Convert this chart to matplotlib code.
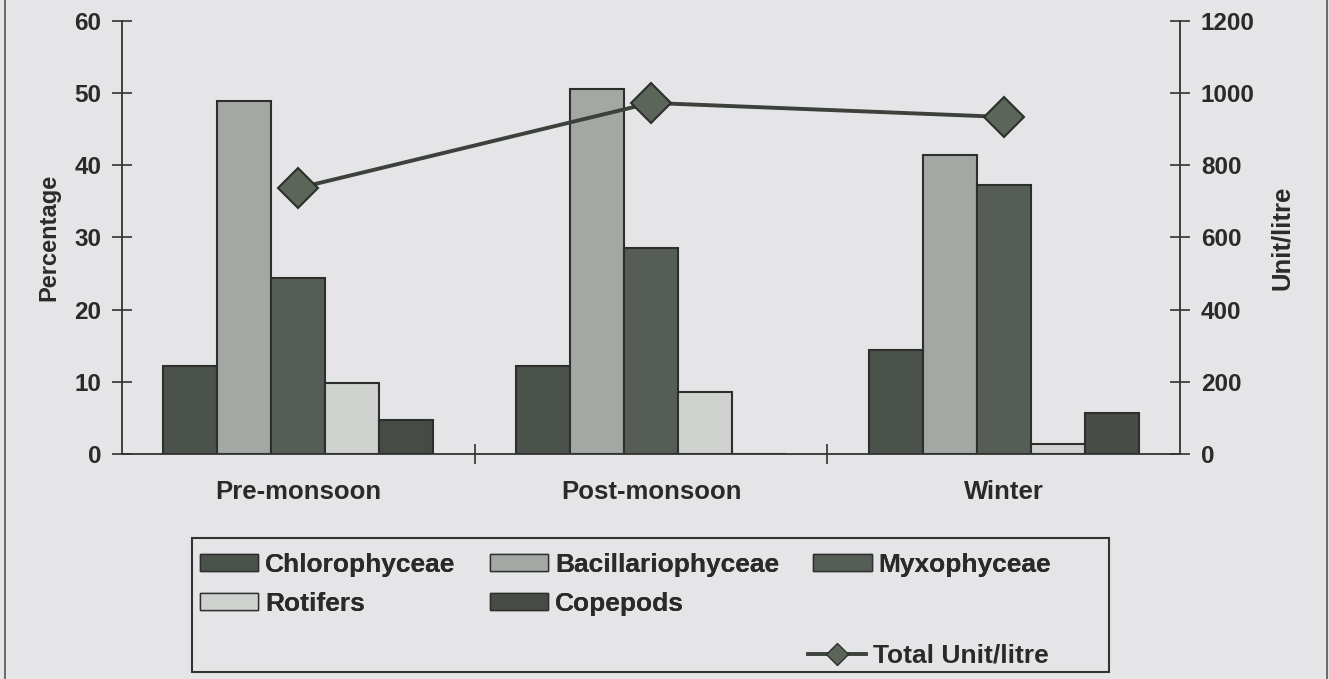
import matplotlib.pyplot as plt
from matplotlib.patches import Patch, Rectangle
from matplotlib.lines import Line2D
import numpy as np

plt.rcParams['font.family'] = ['Liberation Sans', 'DejaVu Sans']
plt.rcParams['font.weight'] = 'bold'

seasons = ["Pre-monsoon", "Post-monsoon", "Winter"]
groups = ["Chlorophyceae", "Bacillariophyceae", "Myxophyceae", "Rotifers", "Copepods"]
chlorophyceae = [12.2, 12.2, 14.4]
bacillariophyceae = [48.9, 50.6, 41.4]
myxophyceae = [24.4, 28.5, 37.3]
rotifers = [9.8, 8.6, 1.4]
copepods = [4.7, 0.0, 5.7]
total_unit = [737, 973, 934]

series = [chlorophyceae, bacillariophyceae, myxophyceae, rotifers, copepods]
colors = ['#4b524b', '#a4a8a4', '#565c56', '#cfd2cf', '#464b46']
bg = '#e5e5e8'
edge = '#2c2f2c'
txt = '#2a2a2a'

fig = plt.figure(figsize=(13.29, 6.79), dpi=100, facecolor=bg)
ax = fig.add_axes([0.0918, 0.3314, 0.7961, 0.6377])
ax.set_facecolor('none')

x = np.arange(len(seasons))
w = 0.153
for i, (vals, name) in enumerate(zip(series, groups)):
    ax.bar(x + (i - 2) * w, vals, width=w, color=colors[i], edgecolor=edge,
           linewidth=1.5, label=name, zorder=2)

ax.set_xlim(-0.5, 2.5)
ax.set_ylim(0, 60)
ax.set_yticks(range(0, 61, 10))
ax.set_xticks(x)
ax.set_xticklabels(seasons, fontsize=18.5, fontweight='bold', color=txt)
ax.set_xticks([0.5, 1.5], minor=True)
ax.tick_params(axis='x', which='major', length=0, pad=19)
ax.tick_params(axis='x', which='minor', direction='inout', length=14, width=1.2, color='#333333')
ax.tick_params(axis='y', direction='inout', length=14, width=1.2, color='#333333',
               labelsize=17.5, pad=8, labelcolor=txt)
for s in ['top', 'right']:
    ax.spines[s].set_visible(False)
for s in ['left', 'bottom']:
    ax.spines[s].set_color('#333333')
    ax.spines[s].set_linewidth(1.3)
ax.set_ylabel("Percentage", fontsize=17, fontweight='bold', color=txt, labelpad=10)

ax2 = ax.twinx()
ax2.set_ylim(0, 1200)
ax2.set_yticks(range(0, 1201, 200))
ax2.plot(x, total_unit, color='#3c413c', linewidth=2.8, marker='D', markersize=20,
         markerfacecolor='#5b6559', markeredgecolor='#2c302c', markeredgewidth=1.5, zorder=3)
for s in ['top', 'left', 'bottom']:
    ax2.spines[s].set_visible(False)
ax2.spines['right'].set_color('#333333')
ax2.spines['right'].set_linewidth(1.3)
ax2.tick_params(axis='y', direction='inout', length=14, width=1.2, color='#333333',
                labelsize=17.5, pad=8, labelcolor=txt)
ax2.set_ylabel("Unit/litre", fontsize=18.5, fontweight='bold', color=txt, labelpad=11)

# legend: bar entries (column-major order), total line on its own row
bar_handles = [Patch(facecolor=colors[i], edgecolor=edge, label=groups[i]) for i in [0, 3, 1, 4, 2]]
leg_kw = dict(frameon=False, borderaxespad=0, borderpad=0,
              prop={'size': 19, 'weight': 'bold'},
              handlelength=2.2, handleheight=0.6, handletextpad=0.27,
              bbox_transform=fig.transFigure)
leg1 = fig.legend(handles=bar_handles, ncol=3, loc='upper left',
                  bbox_to_anchor=(0.1505, 0.1856), columnspacing=1.3,
                  labelspacing=0.57, **leg_kw)
line_handle = Line2D([], [], color='#3c413c', linewidth=2.8, marker='D', markersize=11,
                     markerfacecolor='#5b6559', markeredgecolor='#2c302c',
                     label="Total Unit/litre")
leg2 = fig.legend(handles=[line_handle], loc='center left',
                  bbox_to_anchor=(0.608, 0.034), **leg_kw)
fig.add_artist(leg1)
for lg in (leg1, leg2):
    for t in lg.get_texts():
        t.set_color(txt)
fig.add_artist(Rectangle((0.1445, 0.0103), 0.690, 0.1973, transform=fig.transFigure,
                         facecolor='none', edgecolor='#333333', linewidth=1.5))

# scanned page border lines
fig.add_artist(Line2D([0.004, 0.004], [0, 1], color='#555555', linewidth=1.2))
fig.add_artist(Line2D([0.9985, 0.9985], [0, 1], color='#555555', linewidth=1.2))

fig.savefig("out.png", dpi=100, facecolor=bg)
